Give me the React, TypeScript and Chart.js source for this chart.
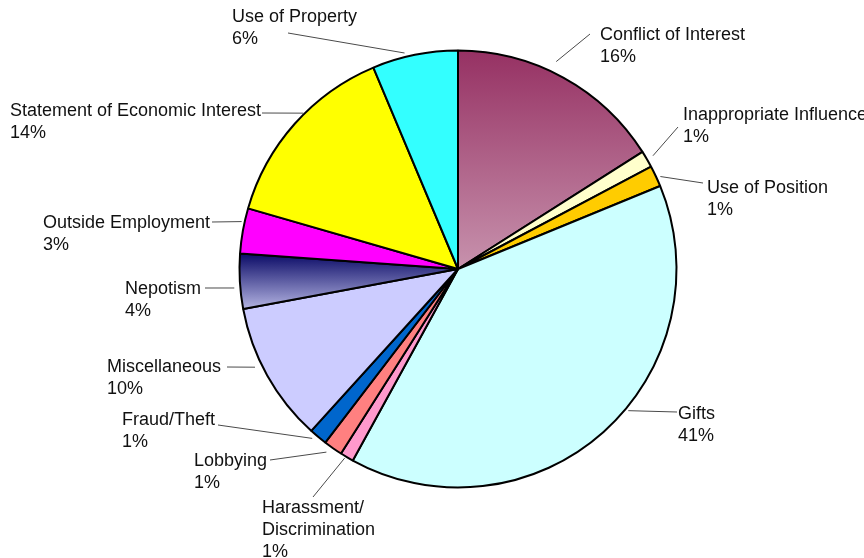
import React, { useEffect, useRef } from 'react';
import { Chart, registerables } from 'chart.js';

Chart.register(...registerables);

// ---- Data ----
const categories: string[] = [
  'Conflict of Interest',
  'Inappropriate Influence',
  'Use of Position',
  'Gifts',
  'Harassment/\nDiscrimination',
  'Lobbying',
  'Fraud/Theft',
  'Miscellaneous',
  'Nepotism',
  'Outside Employment',
  'Statement of Economic Interest',
  'Use of Property',
];
const values: number[] = [16.0, 1.25, 1.55, 39.2, 1.0, 1.4, 1.33, 10.35, 4.05, 3.35, 14.2, 6.33];
const percentLabels: string[] = ['16%', '1%', '1%', '41%', '1%', '1%', '1%', '10%', '4%', '3%', '14%', '6%'];

// ---- Styles ----
const colors: string[] = [
  '#993366', '#ffffcc', '#ffcc00', '#ccffff', '#ff99cc', '#ff8080',
  '#0066cc', '#ccccff', '#000080', '#ff00ff', '#ffff00', '#33ffff',
];
const gradientStops: Record<number, [string, string]> = {
  0: ['#963163', '#c792ad'],
  8: ['#0a0a66', '#b4b4e2'],
};

// label layout: text position (x, first baseline y), leader line label-end (ax, ay),
// position within slice (frac) and radial gap from the rim
const labelLayout = [
  { x: 600, y: 40, ax: 590, ay: 34, frac: 0.44, gap: 10 },
  { x: 683, y: 120, ax: 678, ay: 127, frac: 0.5, gap: 6 },
  { x: 707, y: 193, ax: 703, ay: 183, frac: 0.6, gap: 3 },
  { x: 678, y: 419, ax: 677, ay: 412, frac: 0.44, gap: 2 },
  { x: 262, y: 513, ax: 313, ay: 497, frac: 0.6, gap: 1 },
  { x: 194, y: 466, ax: 270, ay: 460, frac: 0.66, gap: 6 },
  { x: 122, y: 425, ax: 218, ay: 425, frac: 0.69, gap: 4 },
  { x: 107, y: 372, ax: 227, ay: 367, frac: 0.59, gap: 6 },
  { x: 125, y: 294, ax: 205, ay: 288, frac: 0.39, gap: 5 },
  { x: 43, y: 228, ax: 212, ay: 222, frac: 0.69, gap: 2 },
  { x: 10, y: 116, ax: 262, ay: 113, frac: 0.57, gap: 0 },
  { x: 232, y: 22, ax: 288, ay: 33, frac: 0.39, gap: 3 },
];

const FONT = '18px "Liberation Sans", Arial, sans-serif';
const LINE_H = 22;

const labelPlugin = {
  id: 'excelLabels',
  afterDatasetsDraw(chart: any) {
    const ctx: CanvasRenderingContext2D = chart.ctx;
    const meta = chart.getDatasetMeta(0);
    ctx.save();
    meta.data.forEach((arc: any, i: number) => {
      const lay = labelLayout[i];
      if (!lay) return;
      const { x, y, startAngle, endAngle, outerRadius } = arc.getProps(
        ['x', 'y', 'startAngle', 'endAngle', 'outerRadius'],
        true
      );
      const a = startAngle + lay.frac * (endAngle - startAngle);
      const r = outerRadius + 1 + lay.gap;
      const px = x + Math.cos(a) * r;
      const py = y + Math.sin(a) * r;
      ctx.beginPath();
      ctx.strokeStyle = '#4a4a4a';
      ctx.lineWidth = 1;
      ctx.moveTo(lay.ax, lay.ay);
      ctx.lineTo(px, py);
      ctx.stroke();

      ctx.fillStyle = '#111111';
      ctx.font = FONT;
      ctx.textAlign = 'left';
      ctx.textBaseline = 'alphabetic';
      const lines = categories[i].split('\n').concat([percentLabels[i]]);
      lines.forEach((t, k) => ctx.fillText(t, lay.x, lay.y + k * LINE_H));
    });
    ctx.restore();
  },
};

function sliceBg(c: any): any {
  const i = c.dataIndex;
  const stops = gradientStops[i];
  const chart = c.chart;
  const area = chart.chartArea;
  if (!stops || !area) return colors[i];
  const cx = (area.left + area.right) / 2;
  const cy = (area.top + area.bottom) / 2;
  const r = (Math.min(area.width, area.height) - 2) / 2;
  const total = values.reduce((s, v) => s + v, 0);
  const before = values.slice(0, i).reduce((s, v) => s + v, 0);
  const a0 = -Math.PI / 2 + (before / total) * Math.PI * 2;
  const a1 = a0 + (values[i] / total) * Math.PI * 2;
  let ymin = cy;
  let ymax = cy;
  for (let k = 0; k <= 40; k++) {
    const a = a0 + ((a1 - a0) * k) / 40;
    const yy = cy + Math.sin(a) * r;
    ymin = Math.min(ymin, yy);
    ymax = Math.max(ymax, yy);
  }
  const g = chart.ctx.createLinearGradient(0, ymin, 0, ymax);
  g.addColorStop(0, stops[0]);
  g.addColorStop(1, stops[1]);
  return g;
}

export default function App() {
  const canvasRef = useRef<HTMLCanvasElement | null>(null);

  useEffect(() => {
    const canvas = canvasRef.current;
    if (!canvas) return;
    const chart = new Chart(canvas, {
      type: 'pie',
      data: {
        labels: categories,
        datasets: [
          {
            data: values,
            backgroundColor: sliceBg as any,
            borderColor: '#000000',
            borderWidth: 2,
          },
        ],
      },
      options: {
        responsive: false,
        animation: false,
        devicePixelRatio: 1,
        layout: { padding: { left: 238.5, right: 186.5, top: 49.5, bottom: 69.5 } },
        plugins: {
          legend: { display: false },
          tooltip: { enabled: false },
        },
      },
      plugins: [labelPlugin],
    });
    return () => chart.destroy();
  }, []);

  return (
    <div style={{ position: 'absolute', left: 0, top: 0, width: 864, height: 558, background: '#ffffff' }}>
      <canvas ref={canvasRef} width={864} height={558} style={{ width: 864, height: 558, display: 'block' }} />
    </div>
  );
}
